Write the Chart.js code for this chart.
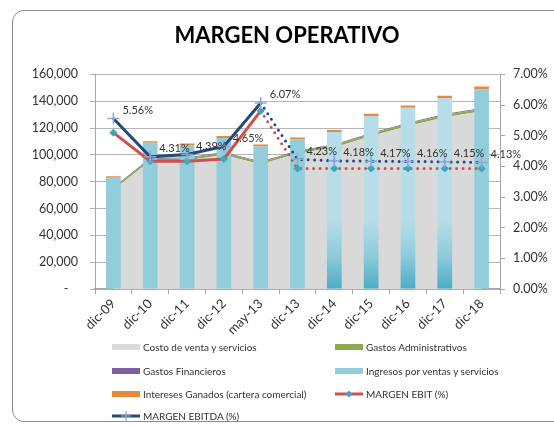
<!DOCTYPE html>
<html>
<head>
<meta charset="utf-8">
<script src="https://cdn.jsdelivr.net/npm/chart.js@4.4.1/dist/chart.umd.min.js"></script>
<style>
  html, body { margin: 0; padding: 0; background: #fff; }
  #wrap { position: relative; width: 554px; height: 425px; overflow: hidden; }
  #frame { position: absolute; left: 12px; top: 10px; width: 560px; height: 412px; border: 1px solid #8c8c8c; border-radius: 12px; box-sizing: border-box; }
  canvas { position: absolute; left: 0; top: 0; }
  .lg { position: absolute; font-family: Lato, "Liberation Sans", sans-serif; font-size: 10px; color: #333; white-space: nowrap; line-height: 12px; }
  .lg .sw { position: absolute; left: 0; top: 3px; width: 28px; height: 6px; }
  .lg svg { position: absolute; left: 0; top: 0; }
  .lg span { position: absolute; left: 31px; top: 0; }
</style>
</head>
<body>
<div id="wrap">
  <div id="frame"></div>
  <canvas id="c" width="554" height="425"></canvas>
  <div id="legend"></div>
</div>
<script>
const categories = ['dic-09','dic-10','dic-11','dic-12','may-13','dic-13','dic-14','dic-15','dic-16','dic-17','dic-18'];
const costoVenta = [74000, 95500, 96000, 100000, 93000, 101000, 105500, 114000, 121500, 128000, 132500];
const gastosAdmin = [1300, 1500, 1500, 1500, 1500, 1500, 1800, 1800, 1800, 1800, 1800];
const gastosFinancieros = [500, 600, 600, 600, 600, 600, 600, 600, 600, 600, 600];
const ingresos = [83000, 109000, 107000, 112500, 106300, 111500, 117000, 129000, 135200, 142400, 149000];
const interesesGanados = [1100, 1100, 1400, 1600, 1400, 1400, 1500, 1700, 1700, 1700, 2000];
const margenEbit = [5.10, 4.17, 4.17, 4.24, 5.81, 3.93, 3.93, 3.93, 3.93, 3.93, 3.93];
const margenEbitda = [5.56, 4.31, 4.39, 4.65, 6.07, 4.23, 4.18, 4.17, 4.16, 4.15, 4.13];
const ebitdaLabels = ['5.56%','4.31%','4.39%','4.65%','6.07%','4.23%','4.18%','4.17%','4.16%','4.15%','4.13%'];

const C_GREY = '#D9D9D9', C_GREEN = '#8CAA4B', C_PURPLE = '#7D60A0', C_BLUE = '#92CDDC',
      C_ORANGE = '#E8893B', C_RED = '#D0504C', C_TEAL = '#3DA5BD', C_NAVY = '#23497F', C_CROSS = '#8FA7D6';

const gradientBars = [6, 7, 8, 9];
function barColor(ctx) {
  const chart = ctx.chart;
  const area = chart.chartArea;
  if (!area) return C_BLUE;
  if (gradientBars.indexOf(ctx.dataIndex) === -1) return C_BLUE;
  const g = chart.ctx.createLinearGradient(0, area.bottom, 0, area.top);
  g.addColorStop(0, '#4BACC6');
  g.addColorStop(0.15, '#8CCADB');
  g.addColorStop(0.32, '#B7DEE8');
  g.addColorStop(1, '#B7DEE8');
  return g;
}

const dotted = (ctx) => ctx.p0DataIndex >= 4 ? [0, 6.5] : undefined;
const dotCap = (ctx) => ctx.p0DataIndex >= 4 ? 'round' : 'butt';

const labelPlugin = {
  id: 'ebitdaLabels',
  afterDatasetsDraw(chart) {
    const meta = chart.getDatasetMeta(7);
    const ctx = chart.ctx;
    ctx.save();
    ctx.font = '11px Lato, "Liberation Sans", sans-serif';
    ctx.fillStyle = '#333';
    ctx.textAlign = 'left';
    ctx.textBaseline = 'middle';
    meta.data.forEach((pt, i) => {
      ctx.fillText(ebitdaLabels[i], pt.x + 9, pt.y - 8);
    });
    ctx.restore();
  }
};

const tickFont = { family: 'Lato, "Liberation Sans", sans-serif', size: 12.5 };

new Chart(document.getElementById('c'), {
  data: {
    labels: categories,
    datasets: [
      { type: 'line', label: 'Costo de venta y servicios', data: costoVenta, yAxisID: 'y', stack: 'area', order: 5,
        fill: 'origin', backgroundColor: C_GREY, borderWidth: 0, pointRadius: 0, tension: 0 },
      { type: 'line', label: 'Gastos Administrativos', data: gastosAdmin, yAxisID: 'y', stack: 'area', order: 5,
        fill: '-1', backgroundColor: C_GREEN, borderWidth: 0, pointRadius: 0, tension: 0 },
      { type: 'line', label: 'Gastos Financieros', data: gastosFinancieros, yAxisID: 'y', stack: 'area', order: 5,
        fill: '-1', backgroundColor: C_PURPLE, borderWidth: 0, pointRadius: 0, tension: 0 },
      { type: 'bar', label: 'Ingresos por ventas y servicios', data: ingresos, yAxisID: 'y', stack: 'bars', order: 3,
        backgroundColor: barColor, barPercentage: 0.4, categoryPercentage: 1 },
      { type: 'bar', label: 'Intereses Ganados (cartera comercial)', data: interesesGanados, yAxisID: 'y', stack: 'bars', order: 3,
        backgroundColor: C_ORANGE, barPercentage: 0.4, categoryPercentage: 1 },
      { type: 'line', label: 'MARGEN EBIT (%)', data: margenEbit, yAxisID: 'y1', order: 1,
        borderColor: C_RED, borderWidth: 3, fill: false, tension: 0,
        pointStyle: 'rectRot', pointRadius: 3.5, pointBackgroundColor: C_TEAL, pointBorderColor: C_TEAL, pointBorderWidth: 1,
        segment: { borderDash: dotted, borderCapStyle: dotCap } },
      { type: 'line', label: '', data: [], yAxisID: 'y1', order: 9 },
      { type: 'line', label: 'MARGEN EBITDA (%)', data: margenEbitda, yAxisID: 'y1', order: 0,
        borderColor: C_NAVY, borderWidth: 3, fill: false, tension: 0,
        pointStyle: 'cross', pointRadius: 6, pointBorderColor: C_CROSS, pointBorderWidth: 1.5,
        segment: { borderDash: dotted, borderCapStyle: dotCap } }
    ]
  },
  options: {
    responsive: false,
    animation: false,
    devicePixelRatio: 1,
    layout: { padding: { left: 20, right: 0, top: 0, bottom: 76 } },
    plugins: {
      legend: { display: false },
      tooltip: { enabled: false },
      title: {
        display: true, text: 'MARGEN OPERATIVO', color: '#000',
        font: { family: 'Lato, "Liberation Sans", sans-serif', size: 22, weight: 'bold' },
        padding: { top: 23, bottom: 25 }
      }
    },
    scales: {
      x: {
        type: 'category',
        offset: true,
        grid: { display: true, drawOnChartArea: false, offset: true, drawTicks: true, tickLength: 5, color: '#A6A6A6' },
        border: { display: true, color: '#A6A6A6', width: 1.5 },
        ticks: { color: '#333', font: { family: 'Lato, "Liberation Sans", sans-serif', size: 13 }, maxRotation: 45, minRotation: 45, padding: 2, autoSkip: false },
        afterFit(s) { s.height = 60; }
      },
      y: {
        position: 'left', stacked: true, min: 0, max: 160000,
        ticks: { stepSize: 20000, color: '#333', font: tickFont, padding: 12,
          callback: (v) => v === 0 ? '-   ' : v.toLocaleString('en-US') },
        grid: { color: '#B5B5B5', drawTicks: true, tickLength: 5 },
        border: { display: true, color: '#A6A6A6' },
        afterFit(s) { s.width = 75; }
      },
      y1: {
        position: 'right', stacked: false, min: 0, max: 7,
        ticks: { stepSize: 1, color: '#333', font: tickFont, padding: 8,
          callback: (v) => v.toFixed(2) + '%' },
        grid: { drawOnChartArea: false, drawTicks: true, tickLength: 5, color: '#A6A6A6' },
        border: { display: true, color: '#A6A6A6' },
        afterFit(s) { s.width = 54; }
      }
    }
  },
  plugins: [labelPlugin]
});

// HTML legend
const legendItems = [
  { text: 'Costo de venta y servicios', kind: 'box', color: C_GREY, x: 112, y: 341 },
  { text: 'Gastos Administrativos', kind: 'box', color: C_GREEN, x: 335, y: 341 },
  { text: 'Gastos Financieros', kind: 'box', color: C_PURPLE, x: 112, y: 365 },
  { text: 'Ingresos por ventas y servicios', kind: 'box', color: C_BLUE, x: 335, y: 365 },
  { text: 'Intereses Ganados (cartera comercial)', kind: 'box', color: C_ORANGE, x: 112, y: 388 },
  { text: 'MARGEN EBIT (%)', kind: 'ebit', x: 335, y: 388 },
  { text: 'MARGEN EBITDA (%)', kind: 'ebitda', x: 112, y: 410 }
];
const lg = document.getElementById('legend');
legendItems.forEach(it => {
  const d = document.createElement('div');
  d.className = 'lg';
  d.style.left = it.x + 'px';
  d.style.top = it.y + 'px';
  let sym = '';
  if (it.kind === 'box') {
    sym = '<div class="sw" style="background:' + it.color + '"></div>';
  } else if (it.kind === 'ebit') {
    sym = '<svg width="28" height="12"><line x1="0" y1="6" x2="28" y2="6" stroke="' + C_RED + '" stroke-width="3"/>' +
          '<polygon points="14,2.5 17.5,6 14,9.5 10.5,6" fill="' + C_TEAL + '"/></svg>';
  } else {
    sym = '<svg width="28" height="12"><line x1="0" y1="6" x2="28" y2="6" stroke="' + C_NAVY + '" stroke-width="3"/>' +
          '<line x1="14" y1="1" x2="14" y2="11" stroke="' + C_CROSS + '" stroke-width="1.2"/>' +
          '<line x1="9" y1="6" x2="19" y2="6" stroke="' + C_CROSS + '" stroke-width="1.2"/></svg>';
  }
  d.innerHTML = sym + '<span>' + it.text + '</span>';
  lg.appendChild(d);
});
</script>
</body>
</html>
